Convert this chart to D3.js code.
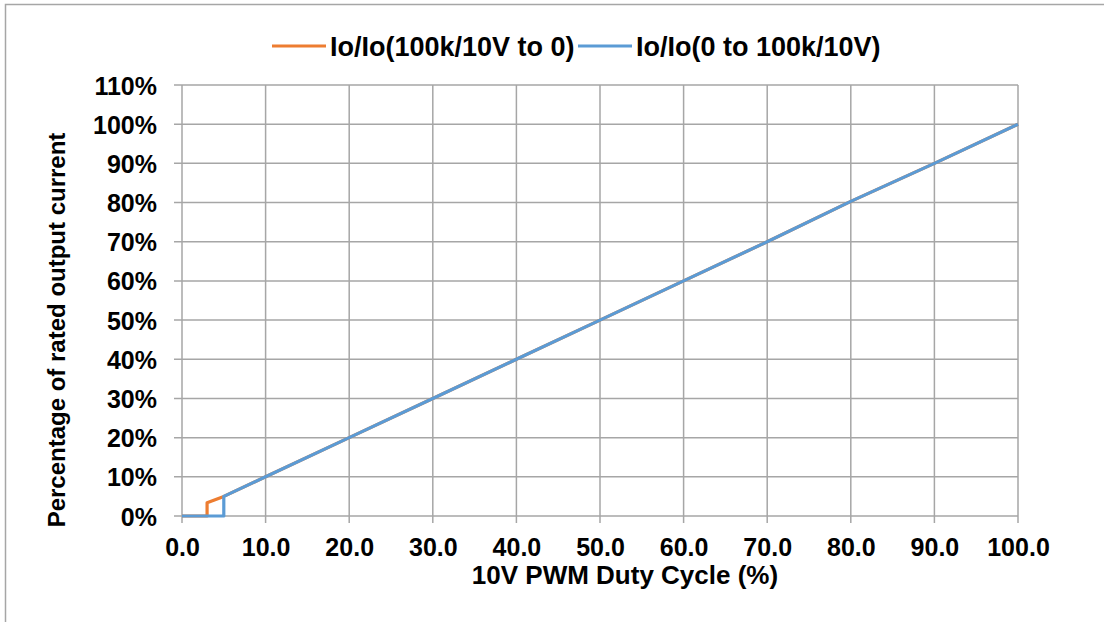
<!DOCTYPE html>
<html>
<head>
<meta charset="utf-8">
<script src="https://cdn.jsdelivr.net/npm/d3@7"></script>
<style>
  body { margin: 0; background: #fff; }
  svg { display: block; font-family: "Liberation Sans", Arial, sans-serif; font-weight: bold; }
</style>
</head>
<body>
<svg id="chart" width="1104" height="622"></svg>
<script>
// duty cycle (%) vs output (%)
const dutyDown = [0, 3, 3, 5, 10, 20, 30, 40, 50, 60, 70, 80, 90, 100];
const ioDown   = [0, 0, 3.4, 5, 10, 20, 30, 40, 50, 60, 70, 80.3, 90, 100];
const dutyUp   = [0, 5, 5, 10, 20, 30, 40, 50, 60, 70, 80, 90, 100];
const ioUp     = [0, 0, 5, 10, 20, 30, 40, 50, 60, 70, 80.3, 90, 100];
const seriesNames = ['Io/Io(100k/10V to 0)', 'Io/Io(0 to 100k/10V)'];
const seriesColors = ['#ED7D31', '#5B9BD5'];
const xTicks = d3.range(0, 101, 10);
const yTicks = d3.range(0, 111, 10);

const svg = d3.select('#chart');
const margin = {left: 182, top: 85, right: 86, bottom: 106};
const w = 1104 - margin.left - margin.right;
const h = 622 - margin.top - margin.bottom;

// outer frame
svg.append('rect').attr('x', 5.5).attr('y', 4.5).attr('width', 1120).attr('height', 640)
  .attr('fill', 'none').attr('stroke', '#a6a6a6').attr('stroke-width', 1.5);

const x = d3.scaleLinear().domain([0, 100]).range([0, w]);
const y = d3.scaleLinear().domain([0, 110]).range([h, 0]);

const g = svg.append('g').attr('transform', `translate(${margin.left},${margin.top})`);

// grid
g.append('g').selectAll('line').data(yTicks).enter().append('line')
  .attr('x1', -8).attr('x2', w).attr('y1', d => y(d)).attr('y2', d => y(d))
  .attr('stroke', '#a6a6a6').attr('stroke-width', 1.5);
g.append('g').selectAll('line').data(xTicks).enter().append('line')
  .attr('x1', d => x(d)).attr('x2', d => x(d)).attr('y1', 0).attr('y2', h + 7)
  .attr('stroke', '#a6a6a6').attr('stroke-width', 1.5);

// tick labels
const xAxis = d3.axisBottom(x).tickValues(xTicks).tickFormat(d3.format('.1f')).tickSize(0).tickPadding(22);
const yAxis = d3.axisLeft(y).tickValues(yTicks).tickFormat(d => d + '%').tickSize(0).tickPadding(25);
const xg = g.append('g').attr('transform', `translate(0,${h})`).call(xAxis);
const yg = g.append('g').call(yAxis);
[xg, yg].forEach(a => {
  a.select('.domain').remove();
  a.selectAll('text').attr('font-size', 25).attr('font-family', '"Liberation Sans", Arial, sans-serif')
    .attr('font-weight', 'bold').attr('fill', '#000');
});
yg.selectAll('text').attr('dy', '0.36em');

// lines
const line = d3.line().x(d => x(d[0])).y(d => y(d[1]));
const series = [
  d3.zip(dutyDown, ioDown),
  d3.zip(dutyUp, ioUp)
];
series.forEach((s, i) => {
  g.append('path').datum(s).attr('d', line).attr('fill', 'none')
    .attr('stroke', seriesColors[i]).attr('stroke-width', 3.2).attr('stroke-linejoin', 'round');
});

// axis titles
svg.append('text').attr('x', 625).attr('y', 584).attr('text-anchor', 'middle')
  .attr('font-size', 26).text('10V PWM Duty Cycle (%)');
svg.append('text').attr('transform', 'translate(65,330) rotate(-90)').attr('text-anchor', 'middle')
  .attr('font-size', 24).text('Percentage of rated output current');

// legend
const legendPos = [272, 578];
seriesNames.forEach((name, i) => {
  const lg = svg.append('g').attr('transform', `translate(${legendPos[i]},46)`);
  lg.append('line').attr('x1', 0).attr('x2', 54).attr('stroke', seriesColors[i]).attr('stroke-width', 3.2);
  lg.append('text').attr('x', 58).attr('dy', '0.36em').attr('font-size', 27).text(name);
});
</script>
</body>
</html>
